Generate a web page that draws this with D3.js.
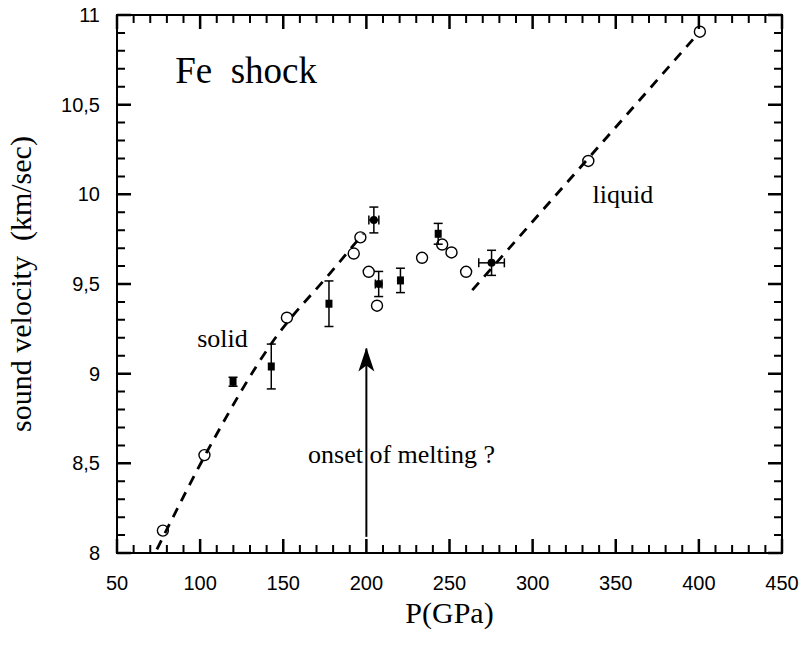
<!DOCTYPE html>
<html>
<head>
<meta charset="utf-8">
<script src="https://cdn.jsdelivr.net/npm/d3@7"></script>
<style>
  body { margin: 0; background: #fff; }
  .lbl { font-family: "Liberation Sans", Arial, sans-serif; font-size: 20px; fill: #000; }
  .serif { font-family: "Liberation Serif", "Times New Roman", serif; fill: #000; }
</style>
</head>
<body>
<script>
// open circles
var circP = [77.6, 102.6, 152.2, 192.4, 196.4, 201.4, 206.4, 233.5, 245.6, 251.2, 260.0, 333.5, 400.6];
var circV = [8.125, 8.546, 9.312, 9.67, 9.76, 9.568, 9.379, 9.646, 9.72, 9.676, 9.568, 10.186, 10.907];

// filled squares with vertical error bars
var sqP = [119.8, 142.8, 177.5, 220.5, 243.2];
var sqV = [8.955, 9.04, 9.39, 9.52, 9.78];
var sqErr = [0.025, 0.125, 0.127, 0.068, 0.058];

// filled dots with vertical + horizontal error bars
var dotP = [204.5, 207.4, 275.3];
var dotV = [9.857, 9.50, 9.618];
var dotErrV = [0.072, 0.07, 0.07];
var dotErrP = [3, 2, 7.7];

// dashed guide lines
var solidP = [74, 108, 143, 180, 198];
var solidV = [8.02, 8.63, 9.17, 9.58, 9.78];
var liquidP = [263.7, 398];
var liquidV = [9.466, 10.88];

// arrow "onset of melting ?"
var arrowP = 200;
var arrowV = [8.09, 9.14];

var xTicks = [50, 100, 150, 200, 250, 300, 350, 400, 450];
var yTicks = [8, 8.5, 9, 9.5, 10, 10.5, 11];

var W = 804, H = 650;
var margin = { top: 15, right: 22, bottom: 97, left: 117 };
var width = W - margin.left - margin.right;
var height = H - margin.top - margin.bottom;

var svg = d3.select("body").append("svg")
    .attr("width", W)
    .attr("height", H)
    .append("g")
    .attr("transform", "translate(" + margin.left + "," + margin.top + ")");

var x = d3.scaleLinear().domain([50, 450]).range([0, width]);
var y = d3.scaleLinear().domain([8, 11]).range([height, 0]);

var minorX = d3.range(50, 451, 10).filter(function (d) { return d % 50 !== 0; });
var minorY = d3.range(80, 111, 1).filter(function (d) { return d % 5 !== 0; }).map(function (d) { return d / 10; });

function fmtY(d) { return String(d).replace(".", ","); }

// ticks on all four sides, pointing inward
function tickPath(xs, ys, len) {
    var p = d3.path();
    xs.forEach(function (d) {
        p.moveTo(x(d), height); p.lineTo(x(d), height - len);
        p.moveTo(x(d), 0); p.lineTo(x(d), len);
    });
    ys.forEach(function (d) {
        p.moveTo(0, y(d)); p.lineTo(len, y(d));
        p.moveTo(width, y(d)); p.lineTo(width - len, y(d));
    });
    return p.toString();
}
svg.append("path")
    .attr("d", tickPath(xTicks, yTicks, 14))
    .attr("fill", "none")
    .attr("stroke", "#000")
    .attr("stroke-width", 2.5);
svg.append("path")
    .attr("d", tickPath(minorX, minorY, 8))
    .attr("fill", "none")
    .attr("stroke", "#000")
    .attr("stroke-width", 2);

// tick labels
svg.selectAll("text.xl")
    .data(xTicks)
    .enter()
    .append("text")
    .attr("class", "lbl xl")
    .attr("x", function (d) { return x(d); })
    .attr("y", height + 37)
    .attr("text-anchor", "middle")
    .text(function (d) { return d; });

svg.selectAll("text.yl")
    .data(yTicks)
    .enter()
    .append("text")
    .attr("class", "lbl yl")
    .attr("x", -17)
    .attr("y", function (d) { return y(d); })
    .attr("dy", "0.35em")
    .attr("text-anchor", "end")
    .text(fmtY);

svg.append("rect")
    .attr("width", width)
    .attr("height", height)
    .attr("fill", "none")
    .attr("stroke", "#000")
    .attr("stroke-width", 2);

// dashed lines
var line = d3.line()
    .x(function (d) { return x(d[0]); })
    .y(function (d) { return y(d[1]); })
    .curve(d3.curveMonotoneX);

svg.append("path")
    .datum(d3.zip(solidP, solidV))
    .attr("d", line)
    .attr("fill", "none")
    .attr("stroke", "#000")
    .attr("stroke-width", 2.8)
    .attr("stroke-dasharray", "10,8");

svg.append("path")
    .datum(d3.zip(liquidP, liquidV))
    .attr("d", line)
    .attr("fill", "none")
    .attr("stroke", "#000")
    .attr("stroke-width", 2.8)
    .attr("stroke-dasharray", "10,8");

// open circles
svg.selectAll("circle.open")
    .data(d3.zip(circP, circV))
    .enter()
    .append("circle")
    .attr("class", "open")
    .attr("cx", function (d) { return x(d[0]); })
    .attr("cy", function (d) { return y(d[1]); })
    .attr("r", 5.5)
    .attr("fill", "none")
    .attr("stroke", "#000")
    .attr("stroke-width", 1.4);

var cap = 4.5;

// squares
var sq = svg.selectAll("g.sq")
    .data(d3.zip(sqP, sqV, sqErr))
    .enter()
    .append("g")
    .attr("class", "sq");
sq.append("line")
    .attr("x1", function (d) { return x(d[0]); })
    .attr("x2", function (d) { return x(d[0]); })
    .attr("y1", function (d) { return y(d[1] - d[2]); })
    .attr("y2", function (d) { return y(d[1] + d[2]); });
sq.append("line")
    .attr("x1", function (d) { return x(d[0]) - cap; })
    .attr("x2", function (d) { return x(d[0]) + cap; })
    .attr("y1", function (d) { return y(d[1] + d[2]); })
    .attr("y2", function (d) { return y(d[1] + d[2]); });
sq.append("line")
    .attr("x1", function (d) { return x(d[0]) - cap; })
    .attr("x2", function (d) { return x(d[0]) + cap; })
    .attr("y1", function (d) { return y(d[1] - d[2]); })
    .attr("y2", function (d) { return y(d[1] - d[2]); });
sq.selectAll("line").attr("stroke", "#000").attr("stroke-width", 1.5);
sq.append("rect")
    .attr("x", function (d) { return x(d[0]) - 3.5; })
    .attr("y", function (d) { return y(d[1]) - 4; })
    .attr("width", 7)
    .attr("height", 8)
    .attr("fill", "#000");

// filled dots with both error bars
var dot = svg.selectAll("g.dot")
    .data(d3.zip(dotP, dotV, dotErrV, dotErrP))
    .enter()
    .append("g")
    .attr("class", "dot");
dot.append("line")
    .attr("x1", function (d) { return x(d[0]); })
    .attr("x2", function (d) { return x(d[0]); })
    .attr("y1", function (d) { return y(d[1] - d[2]); })
    .attr("y2", function (d) { return y(d[1] + d[2]); });
dot.append("line")
    .attr("x1", function (d) { return x(d[0]) - cap; })
    .attr("x2", function (d) { return x(d[0]) + cap; })
    .attr("y1", function (d) { return y(d[1] + d[2]); })
    .attr("y2", function (d) { return y(d[1] + d[2]); });
dot.append("line")
    .attr("x1", function (d) { return x(d[0]) - cap; })
    .attr("x2", function (d) { return x(d[0]) + cap; })
    .attr("y1", function (d) { return y(d[1] - d[2]); })
    .attr("y2", function (d) { return y(d[1] - d[2]); });
dot.append("line")
    .attr("x1", function (d) { return x(d[0] - d[3]); })
    .attr("x2", function (d) { return x(d[0] + d[3]); })
    .attr("y1", function (d) { return y(d[1]); })
    .attr("y2", function (d) { return y(d[1]); });
dot.append("line")
    .attr("x1", function (d) { return x(d[0] - d[3]); })
    .attr("x2", function (d) { return x(d[0] - d[3]); })
    .attr("y1", function (d) { return y(d[1]) - cap; })
    .attr("y2", function (d) { return y(d[1]) + cap; });
dot.append("line")
    .attr("x1", function (d) { return x(d[0] + d[3]); })
    .attr("x2", function (d) { return x(d[0] + d[3]); })
    .attr("y1", function (d) { return y(d[1]) - cap; })
    .attr("y2", function (d) { return y(d[1]) + cap; });
dot.selectAll("line").attr("stroke", "#000").attr("stroke-width", 1.5);
dot.append("circle")
    .attr("cx", function (d) { return x(d[0]); })
    .attr("cy", function (d) { return y(d[1]); })
    .attr("r", 4)
    .attr("fill", "#000");

// arrow
svg.append("defs").append("marker")
    .attr("id", "head")
    .attr("viewBox", "0 0 24 18")
    .attr("refX", 23)
    .attr("refY", 9)
    .attr("markerWidth", 24)
    .attr("markerHeight", 18)
    .attr("markerUnits", "userSpaceOnUse")
    .attr("orient", "auto")
    .append("path")
    .attr("d", "M0,1 L24,9 L0,17 L6,9 Z")
    .attr("fill", "#000");

svg.append("line")
    .attr("x1", x(arrowP))
    .attr("x2", x(arrowP))
    .attr("y1", y(arrowV[0]))
    .attr("y2", y(arrowV[1]))
    .attr("stroke", "#000")
    .attr("stroke-width", 2)
    .attr("marker-end", "url(#head)");

// annotations
svg.append("text").attr("class", "serif")
    .attr("x", x(85)).attr("y", y(10.62))
    .style("font-size", "37px")
    .style("white-space", "pre")
    .text("Fe  shock");

svg.append("text").attr("class", "serif")
    .attr("x", x(98.2)).attr("y", y(9.15))
    .style("font-size", "26px")
    .text("solid");

svg.append("text").attr("class", "serif")
    .attr("x", x(336)).attr("y", y(9.953))
    .style("font-size", "26px")
    .text("liquid");

svg.append("text").attr("class", "serif")
    .attr("x", x(164.9)).attr("y", y(8.5))
    .style("font-size", "26px")
    .text("onset of melting ?");

// axis titles
svg.append("text").attr("class", "serif")
    .attr("x", width / 2)
    .attr("y", height + 70)
    .attr("text-anchor", "middle")
    .style("font-size", "30px")
    .text("P(GPa)");

svg.append("text").attr("class", "serif")
    .attr("transform", "rotate(-90)")
    .attr("x", -height / 2)
    .attr("y", -86)
    .attr("text-anchor", "middle")
    .style("font-size", "30px")
    .style("white-space", "pre")
    .text("sound velocity  (km/sec)");
</script>
</body>
</html>
